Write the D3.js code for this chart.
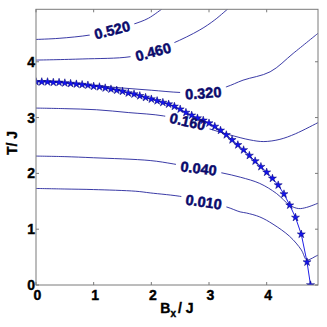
<!DOCTYPE html>
<html>
<head>
<meta charset="utf-8">
<script src="https://cdn.jsdelivr.net/npm/d3@7"></script>
<style>
  body { margin: 0; background: #fff; }
  text { font-family: "Liberation Sans", Arial, sans-serif; font-weight: bold; }
</style>
</head>
<body>
<div id="graph"></div>
<script>
// phase boundary, drawn with stars
const boundaryB = [0, 0.1, 0.2, 0.3, 0.4, 0.5, 0.6, 0.7, 0.8, 0.9,
                   1.0, 1.1, 1.2, 1.3, 1.4, 1.5, 1.6, 1.7, 1.8, 1.9,
                   2.0, 2.1, 2.2, 2.3, 2.4, 2.5, 2.6, 2.7, 2.8, 2.9,
                   3.0, 3.1, 3.2, 3.3, 3.4, 3.5, 3.6, 3.7, 3.8, 3.9,
                   4.0, 4.1, 4.2, 4.3, 4.4, 4.5, 4.6, 4.7, 4.76];
const boundaryT = [3.64, 3.64, 3.64, 3.63, 3.63, 3.62, 3.61, 3.60, 3.59, 3.58,
                   3.56, 3.55, 3.53, 3.51, 3.49, 3.47, 3.44, 3.42, 3.39, 3.36,
                   3.33, 3.30, 3.27, 3.24, 3.20, 3.15, 3.09, 3.04, 2.99, 2.95,
                   2.90, 2.84, 2.77, 2.69, 2.60, 2.51, 2.42, 2.32, 2.22, 2.12,
                   2.02, 1.91, 1.79, 1.63, 1.43, 1.21, 0.91, 0.41, 0];

// contour levels, each one a list of [Bx, T] points
const levels = ["0.520", "0.460", "0.320", "0.160", "0.040", "0.010"];
const c520 = [[0,4.40],[0.4,4.42],[0.94,4.48],[1.3,4.56],[1.68,4.67],[1.95,4.78],[2.2,4.96]];
const c460 = [[0,4.03],[0.8,4.05],[1.63,4.09],[2.0,4.19],[2.37,4.33],[2.84,4.57],[3.1,4.75],[3.35,4.97]];
const c320 = [[0,3.645],[0.5,3.62],[0.94,3.58],[1.5,3.53],[2.0,3.49],[2.5,3.45],[2.9,3.45],
              [3.3,3.55],[3.59,3.67],[4.06,3.82],[4.46,4.15],[4.89,4.51]];
const c160 = [[0,3.17],[0.5,3.16],[1.05,3.14],[1.6,3.09],[2.21,3.03],[2.6,2.93],[3.0,2.80],
              [3.36,2.69],[3.71,2.60],[3.95,2.57],[4.23,2.61],[4.5,2.71],[4.89,2.91]];
const c040 = [[0,2.31],[0.5,2.30],[1.0,2.28],[1.98,2.23],[2.38,2.17],[2.8,2.09],[3.22,2.01],
              [3.55,1.93],[3.88,1.82],[4.17,1.64],[4.40,1.43],[4.55,1.37],[4.69,1.39],[4.9,1.47]];
const c010 = [[0,1.73],[0.5,1.72],[1.0,1.71],[1.73,1.68],[1.98,1.65],[2.55,1.58],[2.9,1.49],
              [3.30,1.40],[3.54,1.31],[3.65,1.29],[3.88,1.22],[4.11,1.09],[4.40,0.87],[4.60,0.63],
              [4.69,0.45],[4.75,0.46],[4.84,0.51],[4.9,0.54]];
const contours = [c520, c460, c320, c160, c040, c010];

// where each level's label sits (Bx, T) and its tilt
const labelB = [1.32, 2.03, 2.90, 2.63, 2.82, 2.91];
const labelT = [4.57, 4.18, 3.44, 2.93, 2.09, 1.49];
const labelTilt = [-14, -15, -4, 13, 7, 8];

const xTicks = [0, 1, 2, 3, 4];
const yTicks = [0, 1, 2, 3, 4];

const width = 327, height = 327;
const plotLeft = 36, plotRight = 318, plotTop = 9.3, plotBottom = 285;

let svg = d3.select("#graph")
    .append("svg")
        .attr("width", width)
        .attr("height", height);

let x = d3.scaleLinear().domain([0, 4.89]).range([plotLeft, plotRight]);
let y = d3.scaleLinear().domain([0, 4.94]).range([plotBottom, plotTop]);

let defs = svg.append("defs");
defs.append("clipPath").attr("id", "plotclip")
    .append("rect")
        .attr("x", plotLeft).attr("y", plotTop)
        .attr("width", plotRight - plotLeft).attr("height", plotBottom - plotTop);

// mask that cuts the contour lines where the labels go
let mask = defs.append("mask").attr("id", "labelgap")
    .attr("maskUnits", "userSpaceOnUse")
    .attr("x", 0).attr("y", 0).attr("width", width).attr("height", height);
mask.append("rect").attr("width", width).attr("height", height).attr("fill", "white");
mask.selectAll("rect.gap")
    .data(levels)
    .enter()
    .append("rect")
        .attr("class", "gap")
        .attr("x", -23).attr("y", -7)
        .attr("width", 46).attr("height", 14)
        .attr("fill", "black")
        .attr("transform", (d, i) => `translate(${x(labelB[i])}, ${y(labelT[i])}) rotate(${labelTilt[i]})`);

let line = d3.line()
    .x(d => x(d[0]))
    .y(d => y(d[1]))
    .curve(d3.curveCatmullRom);

let plot = svg.append("g").attr("clip-path", "url(#plotclip)");

plot.append("g")
    .attr("mask", "url(#labelgap)")
    .selectAll("path")
    .data(contours)
    .enter()
    .append("path")
        .attr("d", line)
        .attr("fill", "none")
        .attr("stroke", "#25259c")
        .attr("stroke-width", 0.9);

// contour labels (a thin stroke makes them as heavy as the original)
svg.append("g")
    .selectAll("text")
    .data(levels)
    .enter()
    .append("text")
        .text(d => d)
        .attr("text-anchor", "middle")
        .attr("dy", "0.36em")
        .attr("fill", "#0a0a6c")
        .attr("stroke", "#0a0a6c")
        .attr("stroke-width", 0.5)
        .style("font-size", "14.5px")
        .attr("transform", (d, i) => `translate(${x(labelB[i])}, ${y(labelT[i])}) rotate(${labelTilt[i]})`);

// phase boundary with star markers
let boundary = boundaryB.map((b, i) => [b, boundaryT[i]]);
plot.append("path")
    .datum(boundary)
    .attr("d", d3.line().x(d => x(d[0])).y(d => y(d[1])))
    .attr("fill", "none")
    .attr("stroke", "#1f1fe6")
    .attr("stroke-width", 1);

let star = d3.symbol().type(d3.symbolStar).size(20);
plot.append("g")
    .selectAll("path")
    .data(boundary)
    .enter()
    .append("path")
        .attr("d", star)
        .attr("transform", d => `translate(${x(d[0])}, ${y(d[1])})`)
        .attr("fill", "#1414ee")
        .attr("stroke", "#000070")
        .attr("stroke-width", 0.5);

// axes box and inward ticks
svg.append("rect")
    .attr("x", plotLeft).attr("y", plotTop)
    .attr("width", plotRight - plotLeft).attr("height", plotBottom - plotTop)
    .attr("fill", "none")
    .attr("stroke", "#7a7a7a")
    .attr("stroke-width", 1);

let ticks = svg.append("g").attr("stroke", "#7a7a7a").attr("stroke-width", 1);
xTicks.forEach(t => {
    ticks.append("line").attr("x1", x(t)).attr("x2", x(t)).attr("y1", plotBottom).attr("y2", plotBottom - 3);
    ticks.append("line").attr("x1", x(t)).attr("x2", x(t)).attr("y1", plotTop).attr("y2", plotTop + 3);
});
yTicks.forEach(t => {
    ticks.append("line").attr("x1", plotLeft).attr("x2", plotLeft + 3).attr("y1", y(t)).attr("y2", y(t));
    ticks.append("line").attr("x1", plotRight).attr("x2", plotRight - 3).attr("y1", y(t)).attr("y2", y(t));
});

svg.append("g")
    .selectAll("text")
    .data(xTicks)
    .enter()
    .append("text")
        .text(d => d)
        .attr("x", d => x(d) + 1.5)
        .attr("y", 300)
        .attr("text-anchor", "middle")
        .attr("stroke", "#000")
        .attr("stroke-width", 0.4)
        .style("font-size", "14px");

svg.append("g")
    .selectAll("text")
    .data(yTicks)
    .enter()
    .append("text")
        .text(d => d)
        .attr("x", 35)
        .attr("y", d => y(d))
        .attr("dy", "0.36em")
        .attr("text-anchor", "end")
        .attr("stroke", "#000")
        .attr("stroke-width", 0.4)
        .style("font-size", "14px");

// axis titles
let xTitle = svg.append("text")
    .attr("x", (plotLeft + plotRight) / 2)
    .attr("y", 313)
    .attr("text-anchor", "middle")
    .attr("stroke", "#000")
    .attr("stroke-width", 0.4)
    .style("font-size", "14px");
xTitle.append("tspan").text("B");
xTitle.append("tspan").text("x").attr("dy", 4).style("font-size", "10px");
xTitle.append("tspan").text("/ J").attr("dy", -4).attr("dx", 2);

svg.append("text")
    .text("T/ J")
    .attr("text-anchor", "middle")
    .attr("transform", `translate(17, 143) rotate(-90)`)
    .attr("stroke", "#000")
    .attr("stroke-width", 0.4)
    .style("font-size", "14px");
</script>
</body>
</html>
